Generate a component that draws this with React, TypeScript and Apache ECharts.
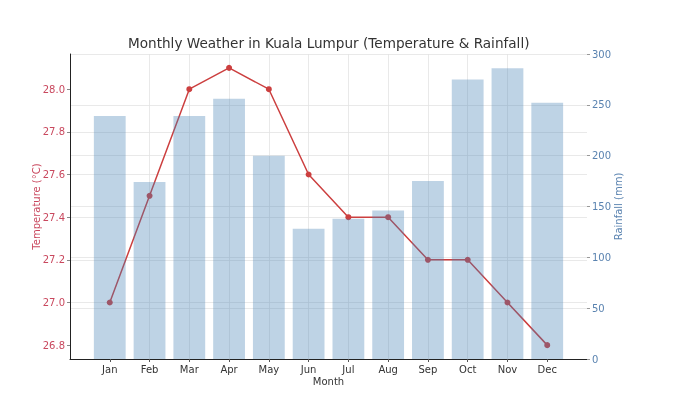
import React, { useEffect, useRef } from "react";
import * as echarts from "echarts";

const months = ["Jan", "Feb", "Mar", "Apr", "May", "Jun", "Jul", "Aug", "Sep", "Oct", "Nov", "Dec"];
const temperature = [27.0, 27.5, 28.0, 28.1, 28.0, 27.6, 27.4, 27.4, 27.2, 27.2, 27.0, 26.8];
const rainfall = [239, 174, 239, 256, 200, 128, 138, 146, 175, 275, 286, 252];
const tempTicks = [26.8, 27.0, 27.2, 27.4, 27.6, 27.8, 28.0];

const FONT = "DejaVu Sans";
const TEMP_COLOR = "#c9485e";
const RAIN_COLOR = "#5a83b0";
const LINE_COLOR = "#cc3f3f";
const GRID_COLOR = "#e3e3e3";

export default function App() {
  const ref = useRef<HTMLDivElement>(null);
  useEffect(() => {
    if (!ref.current) return;
    const chart = echarts.init(ref.current, undefined, { renderer: "svg" });
    const idx = months.map((_, i) => i);
    chart.setOption({
      animation: false,
      textStyle: { fontFamily: FONT },
      title: {
        text: "Monthly Weather in Kuala Lumpur (Temperature & Rainfall)",
        left: 128,
        top: 36,
        padding: 0,
        textStyle: { fontFamily: FONT, fontSize: 13.6, fontWeight: "normal", color: "#333" },
      },
      grid: { left: 70, right: 106, top: 54, bottom: 34, containLabel: false },
      xAxis: {
        type: "value",
        min: -1,
        max: 12,
        interval: 1,
        name: "Month",
        nameLocation: "middle",
        nameGap: 17,
        nameMoveOverlap: false,
        nameTextStyle: { fontFamily: FONT, fontSize: 10, color: "#333", verticalAlign: "top" },
        axisLine: { show: true, onZero: false, lineStyle: { color: "#222", width: 1 } },
        axisTick: { show: true, customValues: idx, length: 3, lineStyle: { color: "#555" } },
        axisLabel: {
          customValues: idx,
          margin: 5,
          fontFamily: FONT,
          fontSize: 10,
          color: "#333",
          formatter: (v: number) => months[Math.round(v)] ?? "",
        },
        splitLine: { show: true, showMinLine: false, showMaxLine: false, lineStyle: { color: GRID_COLOR, width: 0.8 } },
      },
      yAxis: [
        {
          type: "value",
          min: 26.735,
          max: 28.165,
          splitNumber: 7,
          name: "Temperature (°C)",
          nameLocation: "middle",
          nameGap: 29,
          nameMoveOverlap: false,
          nameTextStyle: { fontFamily: FONT, fontSize: 10, color: TEMP_COLOR },
          axisLine: { show: true, onZero: false, lineStyle: { color: "#222", width: 1 } },
          axisTick: { show: true, customValues: tempTicks, length: 3, lineStyle: { color: "#888" } },
          axisLabel: {
            customValues: tempTicks,
            margin: 5,
            fontFamily: FONT,
            fontSize: 10,
            color: TEMP_COLOR,
            formatter: (v: number) => v.toFixed(1),
          },
          splitLine: { show: true, showMinLine: false, showMaxLine: false, lineStyle: { color: GRID_COLOR, width: 0.8 } },
        },
        {
          type: "value",
          min: 0,
          max: 300,
          interval: 50,
          position: "right",
          name: "Rainfall (mm)",
          nameLocation: "middle",
          nameGap: 26,
          nameMoveOverlap: false,
          nameTextStyle: { fontFamily: FONT, fontSize: 10, color: RAIN_COLOR },
          axisLine: { show: false, onZero: false },
          axisTick: { show: true, length: 3, lineStyle: { color: "#999" } },
          axisLabel: { margin: 5, fontFamily: FONT, fontSize: 10, color: RAIN_COLOR },
          splitLine: { show: true, lineStyle: { color: GRID_COLOR, width: 0.8 } },
        },
      ],
      series: [
        {
          type: "line",
          yAxisIndex: 0,
          data: temperature.map((t, i) => [i, t]),
          symbol: "circle",
          symbolSize: 6,
          lineStyle: { color: LINE_COLOR, width: 1.5 },
          itemStyle: { color: LINE_COLOR },
          z: 1,
        },
        {
          type: "bar",
          yAxisIndex: 1,
          data: rainfall.map((r, i) => [i, r]),
          barWidth: 31.8,
          itemStyle: { color: "rgba(70,130,180,0.35)" },
          z: 5,
        },
      ],
    });
    return () => chart.dispose();
  }, []);
  return <div ref={ref} style={{ position: "fixed", left: 0, top: 0, width: 693, height: 393 }} />;
}
